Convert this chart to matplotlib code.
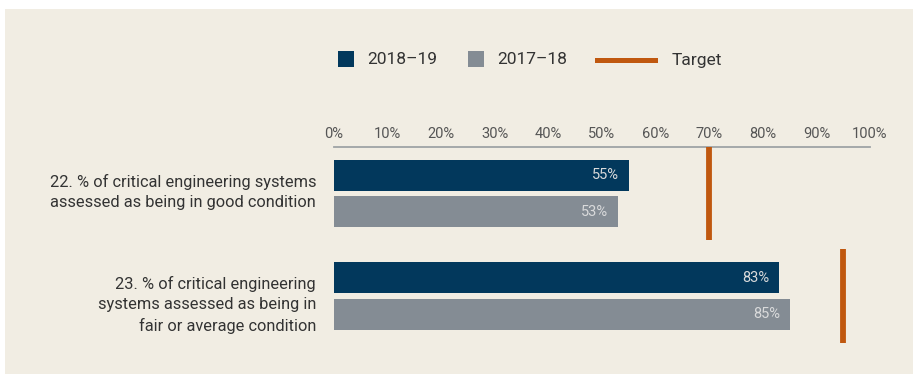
import numpy as np
import matplotlib.pyplot as plt
from matplotlib.patches import Rectangle
from matplotlib.lines import Line2D
from matplotlib.transforms import blended_transform_factory

# data
categories = [
    "22. % of critical engineering systems\nassessed as being in good condition",
    "23. % of critical engineering\nsystems assessed as being in\nfair or average condition",
]
values_2018_19 = [55, 83]
values_2017_18 = [53, 85]
targets = [70, 95]
tick_values = list(range(0, 101, 10))
tick_labels = [f"{t}%" for t in tick_values]
series_names = ["2018–19", "2017–18", "Target"]

NAVY = "#02385c"
GREY = "#848c94"
ORANGE = "#c0580f"
BEIGE = "#f1ede3"
TEXT = "#333333"

plt.rcParams["font.family"] = ["Roboto", "DejaVu Sans"]

W, H = 913, 374
fig = plt.figure(figsize=(W / 100, H / 100), dpi=100)
fig.patch.set_facecolor("white")


def fpos(x, y):
    # pixel position (from top left) -> figure fraction
    return x / W, 1 - y / H


# beige panel behind everything
fig.patches.append(Rectangle((5 / W, 0), 1 - 5 / W, 1 - 9 / H, transform=fig.transFigure,
                             facecolor=BEIGE, edgecolor="none", zorder=-5))

ax = fig.add_axes([334 / W, 24 / H, 536 / W, 203 / H])
ax.set_facecolor("none")

y = np.arange(len(categories))
off = 0.176
bar_h = 0.302
bars_a = ax.barh(y - off, values_2018_19, height=bar_h, color=NAVY, zorder=2)
bars_b = ax.barh(y + off, values_2017_18, height=bar_h, color=GREY, zorder=2)
ax.vlines(targets, y - 0.457, y + 0.457, color=ORANGE, lw=4.2, zorder=3)

# value labels inside the bar ends
for ys, vals in ((y - off, values_2018_19), (y + off, values_2017_18)):
    for yy, v in zip(ys, vals):
        ax.annotate(f"{v}%", (v, yy), xytext=(-7, 0), textcoords="offset points",
                    ha="right", va="center", color="#d9dadb", fontsize=10.5)

# category labels, right aligned and hung from the top of each bar group
trans = blended_transform_factory(ax.transAxes, ax.transData)
for yy, lab in zip(y, categories):
    ax.text(-18 / 536, yy - 0.195, lab, transform=trans, ha="right", va="top",
            multialignment="right", fontsize=11.8, color=TEXT, linespacing=1.42)

ax.set_xlim(0, 100)
ax.set_ylim(1.527, -0.454)
ax.xaxis.tick_top()
ax.set_xticks(tick_values, tick_labels)
ax.set_yticks([])
ax.tick_params(axis="x", length=0, pad=4, labelsize=10.5, labelcolor="#555555")
for side in ("left", "right", "bottom"):
    ax.spines[side].set_visible(False)
ax.spines["top"].set_color("#9ea3a6")
ax.spines["top"].set_linewidth(1.3)

# legend drawn by hand across the top
legend_items = [
    ("box", NAVY, 338, 367),
    ("box", GREY, 468, 497),
    ("line", ORANGE, 597, 672),
]
for name, (kind, col, x0, xt) in zip(series_names, legend_items):
    if kind == "box":
        fig.patches.append(Rectangle(fpos(x0, 67), 16 / W, 16 / H, transform=fig.transFigure,
                                     facecolor=col, edgecolor="none"))
    else:
        fig.add_artist(Line2D([x0 / W, (x0 + 58) / W], [1 - 60 / H] * 2,
                              transform=fig.transFigure, color=col, lw=3.6))
    fig.text(*fpos(xt, 60), name, ha="left", va="center", fontsize=12.5, color=TEXT)

fig.savefig("out.png", dpi=100, facecolor=fig.get_facecolor())
